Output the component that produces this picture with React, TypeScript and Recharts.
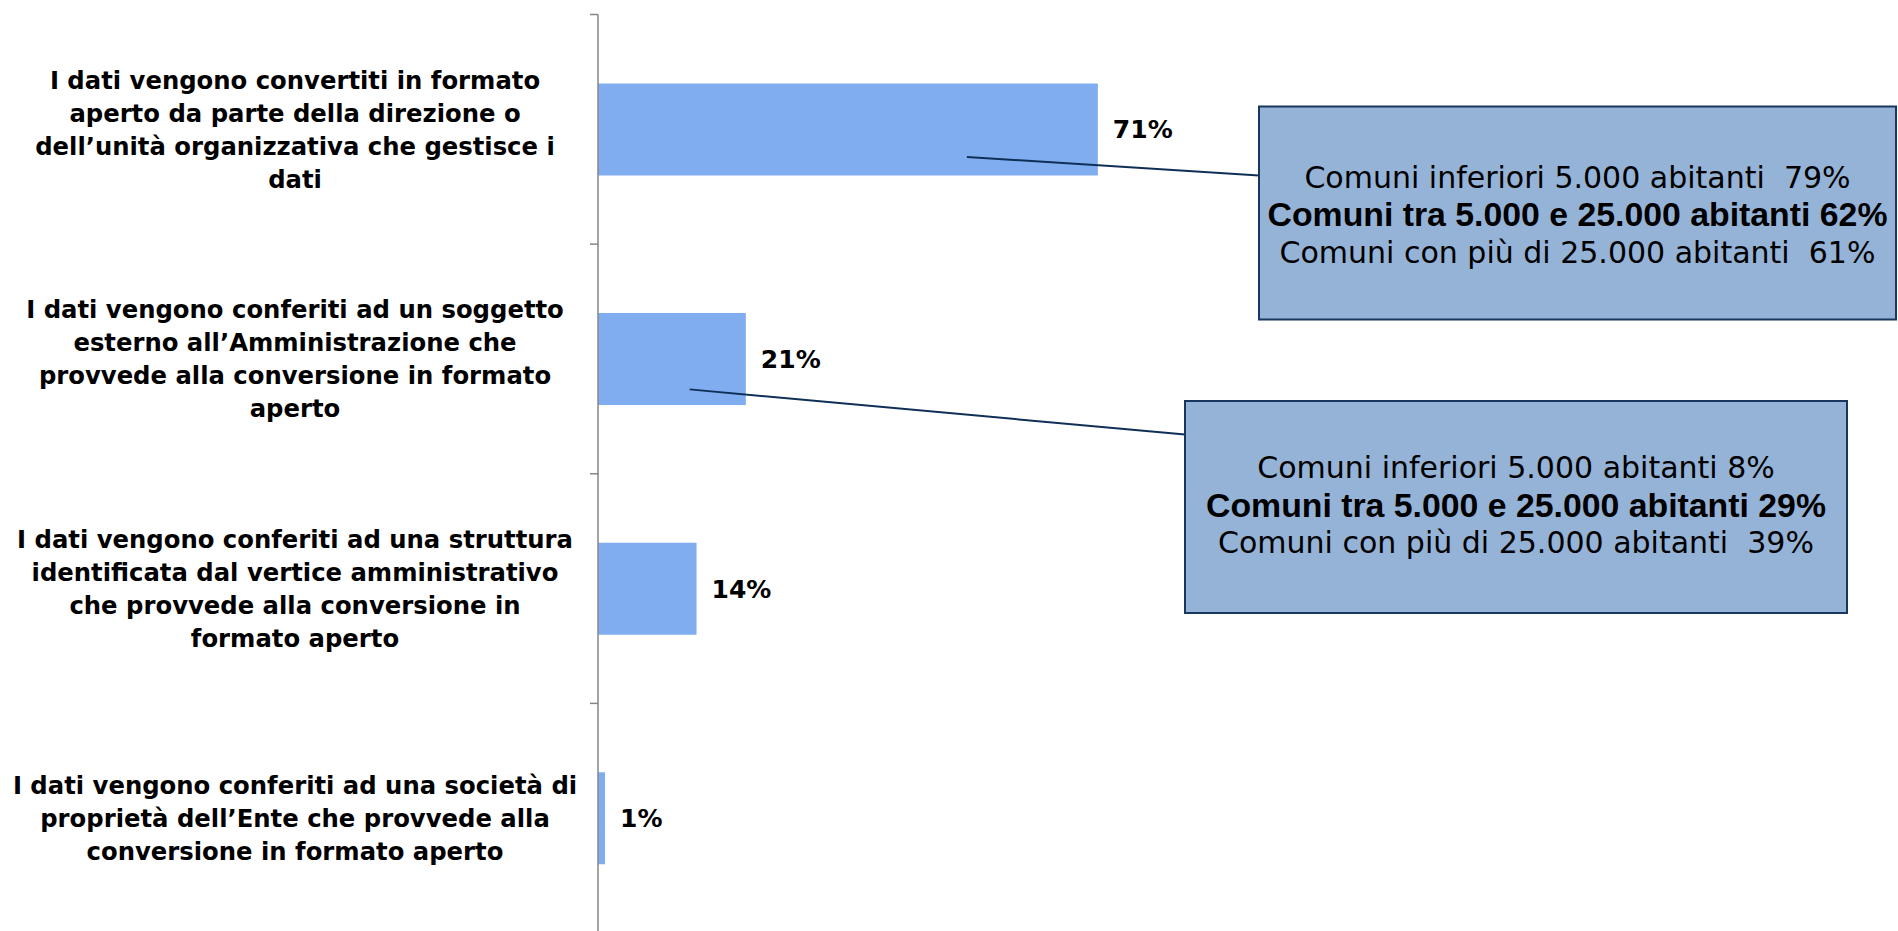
import React from 'react'
import { BarChart, Bar, XAxis, YAxis, LabelList } from 'recharts'

// categorie (testo completo) e righe così come vanno a capo nel grafico
const categories = [
  'I dati vengono convertiti in formato aperto da parte della direzione o dell’unità organizzativa che gestisce i dati',
  'I dati vengono conferiti ad un soggetto esterno all’Amministrazione che provvede alla conversione in formato aperto',
  'I dati vengono conferiti ad una struttura identificata dal vertice amministrativo che provvede alla conversione in formato aperto',
  'I dati vengono conferiti ad una società di proprietà dell’Ente che provvede alla conversione in formato aperto',
]
const categoryLines = [
  ['I dati vengono convertiti in formato', 'aperto da parte della direzione o', 'dell’unità organizzativa che gestisce i', 'dati'],
  ['I dati vengono conferiti ad un soggetto', 'esterno all’Amministrazione che', 'provvede alla conversione in formato', 'aperto'],
  ['I dati vengono conferiti ad una struttura', 'identificata dal vertice amministrativo', 'che provvede alla conversione in', 'formato aperto'],
  ['I dati vengono conferiti ad una società di', 'proprietà dell’Ente che provvede alla', 'conversione in formato aperto'],
]
const values = [71, 21, 14, 1]

// dettaglio per fascia di comuni (solo prime due voci)
const calloutSmall = ['79%', '8%']
const calloutMid = ['62%', '29%']
const calloutLarge = ['61%', '39%']

const data = categories.map((name, i) => ({ name, value: values[i] }))

/* ── layout ── */
const W = 1898
const H = 940
const AXIS_X = 598
const PLOT_TOP = 14.5
const PLOT_BOTTOM = 933
const BAND = (PLOT_BOTTOM - PLOT_TOP) / categories.length
const LABEL_CX = 295
const FONT = '"DejaVu Sans", Verdana, sans-serif'

const BOXES = [
  { x: 1259, y: 106.5, w: 637, h: 213, anchor: [0.738, 0.8], endY: 175.5, textTop: 70 },
  { x: 1185, y: 401, w: 662, h: 212, anchor: [0.62, 0.83], endY: 434.6, textTop: 66 },
]

function CategoryTick(props: any) {
  const { y, payload } = props
  const idx = categories.indexOf(payload.value)
  const lines = categoryLines[idx] || []
  const lh = 33
  const half = payload.offset || BAND / 2
  const y0 = y - ((lines.length - 1) * lh) / 2
  return (
    <g>
      <line x1={AXIS_X - 8} x2={AXIS_X} y1={y - half} y2={y - half} stroke="#868686" strokeWidth={1.5} />
      {idx === categories.length - 1 && (
        <line x1={AXIS_X - 8} x2={AXIS_X} y1={y + half} y2={y + half} stroke="#868686" strokeWidth={1.5} />
      )}
      <text textAnchor="middle" fontFamily={FONT} fontWeight="bold" fontSize={24.3} fill="#000">
        {lines.map((l, i) => (
          <tspan key={i} x={LABEL_CX} y={y0 + i * lh + 9}>
            {l}
          </tspan>
        ))}
      </text>
    </g>
  )
}

function ValueLabel(props: any) {
  const { x, y, width, height, value } = props
  return (
    <text x={x + width + 15} y={y + height / 2 + 9} fontFamily={FONT} fontWeight="bold" fontSize={25} fill="#000">
      {value}%
    </text>
  )
}

function Callout(props: any) {
  const { x, y, width, height, index } = props
  const box = BOXES[index]
  if (!box) return null
  const sx = x + width * box.anchor[0]
  const sy = y + height * box.anchor[1]
  const cx = box.x + box.w / 2
  const ty = box.y + box.textTop
  const lh = 37.6
  return (
    <g>
      <line x1={sx} y1={sy} x2={box.x} y2={box.endY} stroke="#0F2F57" strokeWidth={2} />
      <rect x={box.x} y={box.y} width={box.w} height={box.h} fill="#95B3D7" stroke="#17375E" strokeWidth={2} />
      <text textAnchor="middle" fontSize={30} fill="#000" style={{ whiteSpace: 'pre' }}>
        <tspan x={cx} y={ty + 11} fontFamily={FONT}>
          {`Comuni inferiori 5.000 abitanti ${index === 0 ? ' ' : ''}${calloutSmall[index]}`}
        </tspan>
        <tspan x={cx} y={ty + lh + 12} fontFamily='"Liberation Sans", Arial, sans-serif' fontWeight="bold" fontSize={33.8}>
          {`Comuni tra 5.000 e 25.000 abitanti ${calloutMid[index]}`}
        </tspan>
        <tspan x={cx} y={ty + 2 * lh + 11} fontFamily={FONT}>
          {`Comuni con più di 25.000 abitanti  ${calloutLarge[index]}`}
        </tspan>
      </text>
    </g>
  )
}

export default function App() {
  return (
    <div style={{ width: W, height: 931, overflow: 'hidden', background: '#fff' }}>
      <style>{'body{margin:0;overflow:hidden}'}</style>
      <BarChart
        width={W}
        height={H}
        data={data}
        layout="vertical"
        margin={{ top: PLOT_TOP, right: W - AXIS_X - 704, bottom: H - PLOT_BOTTOM, left: 0 }}
        barCategoryGap="30%"
      >
        <XAxis type="number" domain={[0, 100]} hide />
        <YAxis
          type="category"
          dataKey="name"
          width={AXIS_X}
          axisLine={{ stroke: '#868686', strokeWidth: 1.5 }}
          tickLine={false}
          tick={<CategoryTick />}
          interval={0}
        />
        <Bar dataKey="value" fill="#80ADF0" isAnimationActive={false}>
          <LabelList dataKey="value" content={<ValueLabel />} />
          <LabelList dataKey="value" content={<Callout />} />
        </Bar>
      </BarChart>
    </div>
  )
}
